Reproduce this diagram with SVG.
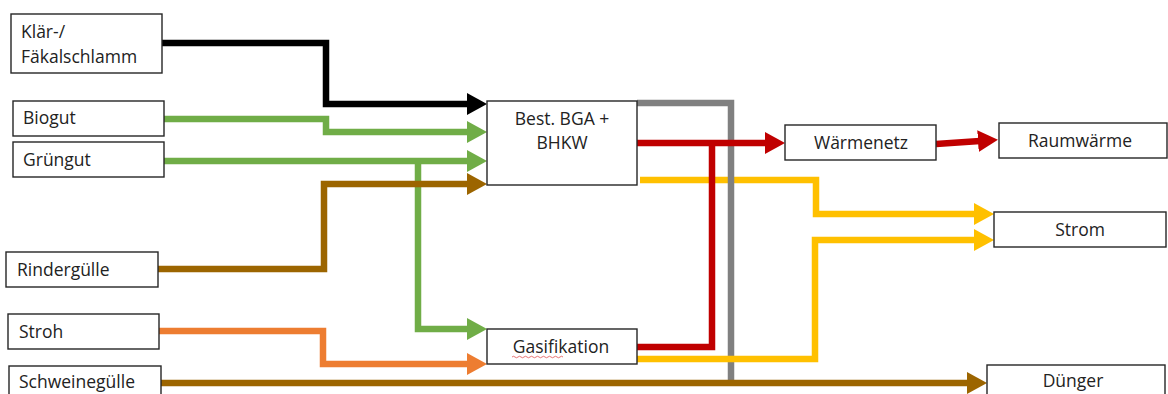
<svg xmlns="http://www.w3.org/2000/svg" width="1168" height="394" viewBox="0 0 1168 394">
<style>
.box{fill:#fff;stroke:#262626;stroke-width:1.4}
.t{font-family:"Open Sans","Liberation Sans",sans-serif;font-size:17.5px;fill:#222}
.c{text-anchor:middle}
.ln{fill:none;stroke-width:6.5;stroke-linejoin:miter}
.k{stroke:#000;marker-end:url(#ak)}
.g{stroke:#70AD47;marker-end:url(#ag)}
.b{stroke:#9C6500;marker-end:url(#ab)}
.o{stroke:#ED7D31;marker-end:url(#ao)}
.r{stroke:#C00000}
.ra{marker-end:url(#ar)}
.y{stroke:#FFC000;marker-end:url(#ay)}
.gr{stroke:#808080}
</style>
<defs>
<marker id="ak" markerUnits="userSpaceOnUse" markerWidth="22" markerHeight="24" refX="2" refY="11" orient="auto"><path d="M0,0 L20,11 L0,22 z" fill="#000"/></marker>
<marker id="ag" markerUnits="userSpaceOnUse" markerWidth="22" markerHeight="24" refX="2" refY="11" orient="auto"><path d="M0,0 L20,11 L0,22 z" fill="#70AD47"/></marker>
<marker id="ab" markerUnits="userSpaceOnUse" markerWidth="22" markerHeight="24" refX="2" refY="11" orient="auto"><path d="M0,0 L20,11 L0,22 z" fill="#9C6500"/></marker>
<marker id="ao" markerUnits="userSpaceOnUse" markerWidth="22" markerHeight="24" refX="2" refY="11" orient="auto"><path d="M0,0 L20,11 L0,22 z" fill="#ED7D31"/></marker>
<marker id="ar" markerUnits="userSpaceOnUse" markerWidth="22" markerHeight="24" refX="2" refY="11" orient="auto"><path d="M0,0 L20,11 L0,22 z" fill="#C00000"/></marker>
<marker id="ay" markerUnits="userSpaceOnUse" markerWidth="22" markerHeight="24" refX="2" refY="11" orient="auto"><path d="M0,0 L20,11 L0,22 z" fill="#FFC000"/></marker>
</defs>
<rect width="1168" height="394" fill="#fff"/>
<g id="connectors">
<path class="ln k" d="M162,43 H326 V104 H469"/>
<path class="ln g" d="M164,119 H326 V132 H469"/>
<path class="ln g" d="M164,161 H469"/>
<path class="ln g" d="M418,161 V329 H469"/>
<path class="ln b" d="M158,269 H324 V184 H469"/>
<path class="ln o" d="M159,331 H323 V364 H469"/>
<path class="ln y" d="M640,180 H816 V214 H976"/>
<path class="ln gr" d="M637,103 H731 V380"/>
<path class="ln y" d="M637,359 H815 V240 H976"/>
<path class="ln b" d="M161,383 H969"/>
<path class="ln r" d="M637,347 H712 V143"/>
<path class="ln r ra" d="M637,143 H767"/>
<path class="ln r ra" d="M936,144 L980,141"/>
</g>
<g id="klaer"><rect class="box" x="11" y="14" width="151" height="59"/><text class="t" x="21" y="38">Klär-/</text><text class="t" x="21" y="63">Fäkalschlamm</text></g>
<g id="biogut"><rect class="box" x="13" y="101" width="151" height="35"/><text class="t" x="23" y="124">Biogut</text></g>
<g id="gruengut"><rect class="box" x="13" y="142" width="151" height="35"/><text class="t" x="23" y="166">Grüngut</text></g>
<g id="rinderguelle"><rect class="box" x="6" y="252" width="152" height="35"/><text class="t" x="17" y="276">Rindergülle</text></g>
<g id="stroh"><rect class="box" x="8" y="314" width="151" height="35"/><text class="t" x="19" y="338">Stroh</text></g>
<g id="schweineguelle"><rect class="box" x="9" y="366" width="152" height="40"/><text class="t" x="19" y="388">Schweinegülle</text></g>
<g id="bga"><rect class="box" x="487" y="101" width="150" height="84"/><text class="t c" x="562" y="125">Best. BGA +</text><text class="t c" x="562" y="149">BHKW</text></g>
<g id="gasifikation"><rect class="box" x="487" y="329" width="150" height="35"/><text class="t c" x="561" y="353">Gasifikation</text><path d="M512,357 q1.5,-1.5 3,0 t3,0 t3,0 t3,0 t3,0 t3,0 t3,0 t3,0 t3,0 t3,0 t3,0 t3,0 t3,0 t3,0 t3,0 t3,0 t3,0" fill="none" stroke="#E05050" stroke-width="0.8"/></g>
<g id="waermenetz"><rect class="box" x="785" y="125" width="151" height="35"/><text class="t c" x="861" y="149">Wärmenetz</text></g>
<g id="raumwaerme"><rect class="box" x="999" y="123" width="168" height="35"/><text class="t c" x="1080" y="147">Raumwärme</text></g>
<g id="strom"><rect class="box" x="994" y="212" width="172" height="35"/><text class="t c" x="1080" y="236">Strom</text></g>
<g id="duenger"><rect class="box" x="987" y="365" width="178" height="40"/><text class="t c" x="1073" y="387">Dünger</text></g>
</svg>
